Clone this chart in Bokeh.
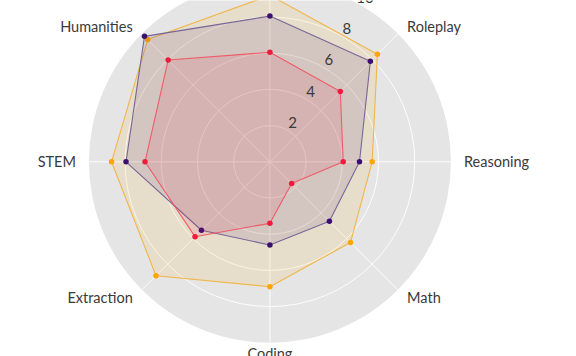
import numpy as np
from bokeh.plotting import figure
from bokeh.models import Range1d, ColumnDataSource
from bokeh.core.properties import value
from bokeh.embed import file_html
from bokeh.resources import INLINE

categories = ["Writing", "Roleplay", "Reasoning", "Math", "Coding", "Extraction", "STEM", "Humanities"]
vals_yellow = [9.2, 8.4, 5.65, 6.3, 6.9, 8.9, 8.75, 9.55]
vals_purple = [8.05, 7.85, 4.95, 4.65, 4.6, 5.35, 7.95, 9.8]
vals_red = [6.05, 5.5, 4.05, 1.7, 3.4, 5.85, 6.9, 7.95]
ring_ticks = [2, 4, 6, 8, 10]
r_max = 10

colors = {"yellow": "#FFA500", "purple": "#3B0F70", "red": "#EE1C3C"}
line_colors = {"yellow": "#F2B13C", "purple": "#6E5A92", "red": "#F2515F"}

W, H = 576, 356
px_per_unit = 18.1
cx, cy = 269.4, 161.3  # centre in frame pixels

p = figure(width=W, height=H, output_backend="svg", toolbar_location=None,
           x_range=Range1d(-cx / px_per_unit, (W - cx) / px_per_unit),
           y_range=Range1d(-(H - cy) / px_per_unit, cy / px_per_unit),
           min_border=0, min_border_left=0, min_border_right=0,
           min_border_top=0, min_border_bottom=0)
p.axis.visible = False
p.grid.visible = False
p.outline_line_color = None
p.background_fill_color = "white"
p.border_fill_color = "white"

n = len(categories)
theta = np.deg2rad(90 - 45 * np.arange(n))

# background disc
p.ellipse(x=0, y=0, width=2 * r_max, height=2 * r_max, fill_color="#E5E5E5", line_color=None)
# rings
for r in ring_ticks[:-1]:
    p.ellipse(x=0, y=0, width=2 * r, height=2 * r, fill_alpha=0, line_color="white", line_width=1, line_alpha=0.9)
# spokes
p.segment(x0=np.zeros(n), y0=np.zeros(n), x1=r_max * np.cos(theta), y1=r_max * np.sin(theta),
          line_color="white", line_width=1, line_alpha=0.9)

for key, vals in [("yellow", vals_yellow), ("purple", vals_purple), ("red", vals_red)]:
    v = np.array(vals)
    xs = v * np.cos(theta)
    ys = v * np.sin(theta)
    xc = np.append(xs, xs[0])
    yc = np.append(ys, ys[0])
    p.patch(xc, yc, fill_color=colors[key], fill_alpha=0.11, line_color=None)
    p.line(xc, yc, line_color=line_colors[key], line_width=1.1, line_alpha=0.9)
    p.scatter(xs, ys, size=5.5, fill_color=colors[key], line_color=None)

# radial tick labels
ang = np.deg2rad(60)
tr = np.array(ring_ticks) + 0.5
p.text(x=tr * np.cos(ang), y=tr * np.sin(ang), text=[str(t) for t in ring_ticks],
       text_font=value("Lato"), text_font_size="15px", text_color="#3a3a3a",
       text_align="center", text_baseline="middle")

# category labels
cosv = np.cos(theta)
sinv = np.sin(theta)
aligns = ["left" if c > 0.1 else ("right" if c < -0.1 else "center") for c in cosv]
src = ColumnDataSource(dict(
    x=r_max * cosv, y=r_max * sinv, text=categories,
    xo=13 * cosv, yo=-11 * sinv, align=aligns))
p.text(x="x", y="y", text="text", x_offset="xo", y_offset="yo", text_align="align",
       text_baseline="middle", text_font=value("Lato"), text_font_size="14.5px",
       text_color="#3a3a3a", source=src)

open("out.html", "w").write(file_html(p, INLINE))
